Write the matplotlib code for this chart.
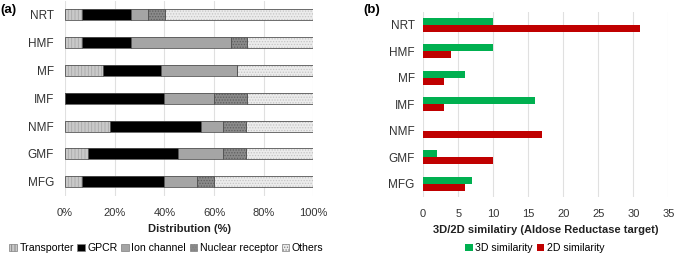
import matplotlib
matplotlib.use("Agg")
import matplotlib.pyplot as plt
import numpy as np
from matplotlib.patches import Patch

plt.rcParams['font.family'] = ['Liberation Sans', 'DejaVu Sans']
plt.rcParams['hatch.linewidth'] = 0.6

categories = ["NRT", "HMF", "MF", "IMF", "NMF", "GMF", "MFG"]

# Panel (a): distribution (%)
transporter = [6.7, 6.7, 15.4, 0.0, 18.2, 9.1, 6.7]
gpcr = [20.0, 20.0, 23.1, 40.0, 36.4, 36.4, 33.3]
ion_channel = [6.7, 40.0, 30.8, 20.0, 9.1, 18.2, 13.3]
nuclear_receptor = [6.7, 6.7, 0.0, 13.3, 9.1, 9.1, 6.7]
others = [60.0, 26.7, 30.8, 26.7, 27.3, 27.3, 40.0]
series_a = [
    ("Transporter", transporter, "#c9c9c9", "|||||", "#a8a8a8"),
    ("GPCR", gpcr, "#000000", None, None),
    ("Ion channel", ion_channel, "#a5a5a5", None, None),
    ("Nuclear receptor", nuclear_receptor, "#8a8a8a", "......", "#5e5e5e"),
    ("Others", others, "#ececec", "......", "#c4c4c4"),
]

# Panel (b): 3D/2D similarity
sim_3d = [10, 10, 6, 16, 0, 2, 7]
sim_2d = [31, 4, 3, 3, 17, 10, 6]

fig = plt.figure(figsize=(6.76, 2.57), dpi=100)

# ---------- Panel (a)
axa = fig.add_axes([0.0962, 0.239, 0.3673, 0.757])
y = np.arange(len(categories))
left = np.zeros(len(categories))
handles = []
for name, vals, fc, hatch, hc in series_a:
    vals = np.array(vals)
    if hatch:
        axa.barh(y, vals, left=left, height=0.4, color=fc, edgecolor=hc,
                 hatch=hatch, linewidth=0, zorder=3)
        h = Patch(facecolor=fc, edgecolor="#7f7f7f", hatch=hatch, linewidth=0.5)
    else:
        axa.barh(y, vals, left=left, height=0.4, color=fc, linewidth=0, zorder=3)
        h = Patch(facecolor=fc, edgecolor="#7f7f7f", linewidth=0.5)
    axa.barh(y, vals, left=left, height=0.4, fill=False, edgecolor="#555555",
             linewidth=0.6, zorder=4)
    handles.append(h)
    left = left + vals
axa.set_xlim(0, 100)
axa.set_ylim(len(categories) - 0.5, -0.5)
axa.set_yticks(y)
axa.set_yticklabels(categories, fontsize=8.5, color="#333333")
axa.set_xticks(np.arange(0, 101, 20))
axa.set_xticklabels([f"{v}%" for v in range(0, 101, 20)], fontsize=8, color="#333333")
axa.tick_params(length=0, pad=8)
axa.tick_params(axis='x', pad=9)
for s in axa.spines.values():
    s.set_visible(False)
axa.grid(axis='x', color="#e0e0e0", linewidth=0.8, zorder=0)
axa.set_axisbelow(True)
axa.set_xlabel("Distribution (%)", fontsize=8, fontweight='bold', color="#222222", labelpad=4)
fig.legend(handles, [s[0] for s in series_a], loc='center', bbox_to_anchor=(0.246, 0.035),
           ncol=5, frameon=False, fontsize=7.6, handlelength=0.7, handleheight=0.7,
           handletextpad=0.25, columnspacing=0.35, borderpad=0)
fig.text(0.0, 0.962, "(a)", fontsize=9.5, fontweight='bold', ha='left', va='center')

# ---------- Panel (b)
axb = fig.add_axes([0.626, 0.2335, 0.3626, 0.721])
bh = 0.265
axb.barh(y - bh / 2, sim_3d, height=bh, color="#00b050", zorder=3, label="3D similarity")
axb.barh(y + bh / 2, sim_2d, height=bh, color="#c00000", zorder=3, label="2D similarity")
axb.set_xlim(0, 35)
axb.set_ylim(len(categories) - 0.5, -0.5)
axb.set_yticks(y)
axb.set_yticklabels(categories, fontsize=8.5, color="#333333")
axb.set_xticks(np.arange(0, 36, 5))
axb.set_xticklabels([str(v) for v in range(0, 36, 5)], fontsize=8, color="#333333")
axb.tick_params(length=0, pad=6)
axb.tick_params(axis='x', pad=9)
for s in axb.spines.values():
    s.set_visible(False)
axb.grid(axis='x', color="#e0e0e0", linewidth=0.8, zorder=0)
axb.set_axisbelow(True)
axb.set_xlabel("3D/2D similatiry (Aldose Reductase target)", fontsize=8, fontweight='bold',
               color="#222222", labelpad=4)
axb.legend(loc='center', bbox_to_anchor=(0.791, 0.035), bbox_transform=fig.transFigure,
           ncol=2, frameon=False, fontsize=7.6, handlelength=0.7, handleheight=0.7,
           handletextpad=0.25, columnspacing=0.35, borderpad=0)
fig.text(0.537, 0.962, "(b)", fontsize=9.5, fontweight='bold', ha='left', va='center')

fig.savefig("out.png", dpi=100)
